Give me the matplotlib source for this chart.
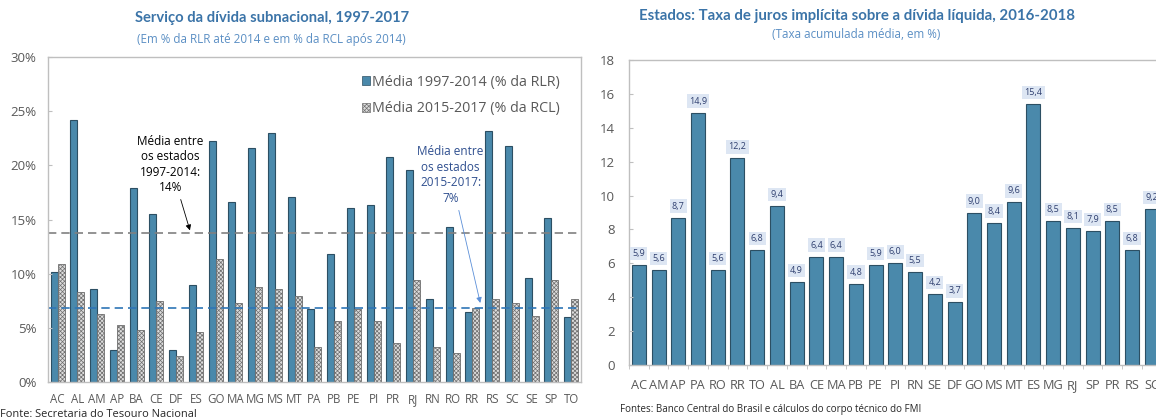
"""
Serviço da dívida subnacional e taxa de juros implícita dos estados
"""

import numpy as np
import matplotlib.pyplot as plt
from matplotlib.patches import Patch

plt.rcParams['font.family'] = ['Open Sans', 'DejaVu Sans']
plt.rcParams['hatch.linewidth'] = 0.5

# Left chart data (% of revenue)
estados_esq = ['AC', 'AL', 'AM', 'AP', 'BA', 'CE', 'DF', 'ES', 'GO', 'MA', 'MG', 'MS', 'MT',
               'PA', 'PB', 'PE', 'PI', 'PR', 'RJ', 'RN', 'RO', 'RR', 'RS', 'SC', 'SE', 'SP', 'TO']
media_1997_2014 = [10.2, 24.2, 8.6, 3.0, 17.9, 15.5, 3.0, 9.0, 22.3, 16.6, 21.6, 23.0, 17.1,
                   6.7, 11.8, 16.1, 16.3, 20.8, 19.6, 7.7, 14.3, 6.5, 23.2, 21.8, 9.6, 15.1, 6.0]
media_2015_2017 = [10.9, 8.3, 6.3, 5.3, 4.8, 7.5, 2.4, 4.6, 11.4, 7.3, 8.8, 8.6, 7.9,
                   3.2, 5.6, 6.7, 5.6, 3.6, 9.4, 3.2, 2.7, 6.8, 7.7, 7.3, 6.1, 9.4, 7.7]
media_geral_1997_2014 = 13.8
media_geral_2015_2017 = 6.8

# Right chart data (implicit interest rate, %)
estados_dir = ['AC', 'AM', 'AP', 'PA', 'RO', 'RR', 'TO', 'AL', 'BA', 'CE', 'MA', 'PB', 'PE', 'PI',
               'RN', 'SE', 'DF', 'GO', 'MS', 'MT', 'ES', 'MG', 'RJ', 'SP', 'PR', 'RS', 'SC']
taxa_juros = [5.9, 5.6, 8.7, 14.9, 5.6, 12.2, 6.8, 9.4, 4.9, 6.4, 6.4, 4.8, 5.9, 6.0,
              5.5, 4.2, 3.7, 9.0, 8.4, 9.6, 15.4, 8.5, 8.1, 7.9, 8.5, 6.8, 9.2]

BLUE = '#4a89ab'
EDGE = '#2c4f63'
GRAY_TXT = '#595959'
AXIS = '#bfbfbf'
TITLE = '#3b74a8'
SUBTITLE = '#5b8fc4'
HATCH_FACE = '#dcdcdc'
HATCH_EDGE = '#6e6e6e'

fig = plt.figure(figsize=(11.56, 4.2), dpi=100)

# ---- Left chart ----
ax1 = fig.add_axes([0.0413, 0.0905, 0.4613, 0.7735])
x = np.arange(len(estados_esq))
w = 0.35
ax1.bar(x - w / 2, media_1997_2014, w, color=BLUE, edgecolor=EDGE, linewidth=0.8)
ax1.bar(x + w / 2, media_2015_2017, w, color=HATCH_FACE, edgecolor=HATCH_EDGE,
        hatch='xxxxxxxx', linewidth=0.6)
ax1.axhline(media_geral_1997_2014, color='#808080', ls=(0, (5, 3)), lw=1.2)
ax1.axhline(media_geral_2015_2017, color='#2e75b6', ls=(0, (5, 3)), lw=1.2)

ax1.set_xlim(-0.5, len(estados_esq) - 0.5)
ax1.set_ylim(0, 30)
ax1.set_yticks(np.arange(0, 31, 5))
ax1.set_yticklabels([f'{v}%' for v in range(0, 31, 5)])
ax1.set_xticks(x)
ax1.set_xticklabels(estados_esq)
ax1.tick_params(axis='x', length=0, pad=8, labelsize=8.3, colors=GRAY_TXT)
ax1.tick_params(axis='y', direction='in', length=3, color=AXIS, labelsize=9.5,
                colors=GRAY_TXT, pad=8)
for s in ax1.spines.values():
    s.set_color(AXIS)
    s.set_linewidth(1)

handles = [Patch(facecolor=BLUE, edgecolor=EDGE, linewidth=0.5),
           Patch(facecolor=HATCH_FACE, edgecolor=HATCH_EDGE, hatch='xxxxxxxx', linewidth=0.5)]
ax1.legend(handles, ['Média 1997-2014 (% da RLR)', 'Média 2015-2017 (% da RCL)'],
           loc='upper right', bbox_to_anchor=(0.985, 0.985), frameon=False, fontsize=10.3,
           handlelength=0.6, handleheight=0.6, handletextpad=0.15, labelspacing=0.8,
           labelcolor=GRAY_TXT)

ax1.annotate('Média entre\nos estados\n1997-2014:\n14%', xy=(6.7, 14.0), xytext=(5.7, 20.1),
             ha='center', va='center', fontsize=8.5, linespacing=1.25, color='black',
             arrowprops=dict(arrowstyle='-|>', color='black', lw=0.6, mutation_scale=8,
                             shrinkA=2, shrinkB=0))
ax1.annotate('Média entre\nos estados\n2015-2017:\n7%', xy=(21.4, 7.3), xytext=(19.9, 19.1),
             ha='center', va='center', fontsize=8.5, linespacing=1.25, color='#2f4f8f',
             arrowprops=dict(arrowstyle='-|>', color='#5b8fd8', lw=0.6, mutation_scale=8,
                             shrinkA=2, shrinkB=0))

fig.text(0.235, 0.957, 'Serviço da dívida subnacional, 1997-2017', ha='center', va='center',
         fontsize=10.6, fontweight='bold', color=TITLE, family='Lato')
fig.text(0.235, 0.905, '(Em % da RLR até 2014 e em % da RCL após 2014)', ha='center',
         va='center', fontsize=8.4, color=SUBTITLE)
fig.text(0.0, 0.012, 'Fonte: Secretaria do Tesouro Nacional', ha='left', va='center',
         fontsize=7.9, color='#262626')

# ---- Right chart ----
ax2 = fig.add_axes([0.5441, 0.131, 0.4608, 0.726])
x2 = np.arange(len(estados_dir))
ax2.bar(x2, taxa_juros, 0.71, color=BLUE, edgecolor=EDGE, linewidth=0.8)
for xi, v in zip(x2, taxa_juros):
    ax2.annotate(f'{v:.1f}'.replace('.', ','), xy=(xi, v), xytext=(0, 5),
                 textcoords='offset points', ha='center', va='bottom', fontsize=6.5,
                 color='#2f3f6f',
                 bbox=dict(boxstyle='square,pad=0.25', fc='#dde6f3', ec='none'))

ax2.set_xlim(-0.5, len(estados_dir) - 0.5)
ax2.set_ylim(0, 18)
ax2.set_yticks(np.arange(0, 19, 2))
ax2.set_xticks(x2)
ax2.set_xticklabels(estados_dir)
ax2.set_xticks(np.arange(-0.5, len(estados_dir), 1), minor=True)
ax2.tick_params(axis='x', which='major', length=0, pad=10, labelsize=9.2, colors=GRAY_TXT)
ax2.tick_params(axis='x', which='minor', length=3, color=AXIS)
ax2.tick_params(axis='y', direction='in', length=3, color=AXIS, labelsize=9.5,
                colors=GRAY_TXT, pad=10)
for s in ax2.spines.values():
    s.set_color(AXIS)
    s.set_linewidth(1)
ax2.spines['right'].set_visible(False)

fig.text(0.741, 0.962, 'Estados: Taxa de juros implícita sobre a dívida líquida, 2016-2018',
         ha='center', va='center', fontsize=10.8, fontweight='bold', color=TITLE, family='Lato')
fig.text(0.741, 0.917, '(Taxa acumulada média, em %)', ha='center', va='center',
         fontsize=8.4, color=SUBTITLE)
fig.text(0.536, 0.024, 'Fontes: Banco Central do Brasil e cálculos do corpo técnico do FMI',
         ha='left', va='center', fontsize=7.0, color='#262626')

fig.savefig('out.png', dpi=100)
